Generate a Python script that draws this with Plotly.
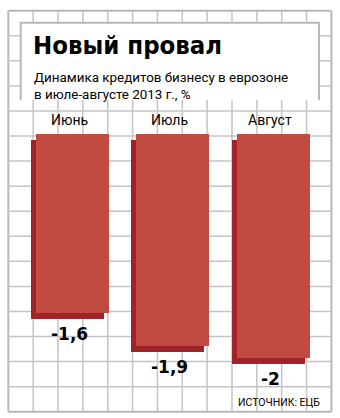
import plotly.graph_objects as go

# ---- data ----
categories = ["Июнь", "Июль", "Август"]
values = [-1.6, -1.9, -2.0]
value_labels = ["-1,6", "-1,9", "-2"]
title = "Новый провал"
subtitle = "Динамика кредитов бизнесу в еврозоне<br>в июле-августе 2013 г., %"
source = "ИСТОЧНИК: ЕЦБ"

W, H = 340, 418
FRONT = "#C24B41"
SIDE = "#A0232A"
GRID = "#C4C4C4"

# axis mapping (pixels per unit)
px_per_cat = 100.25
x0_px = 72.5
px_per_val = 111.6
y0_px = 134.3
xr = [-x0_px / px_per_cat, (W - x0_px) / px_per_cat]
yr = [(y0_px - H) / px_per_val, y0_px / px_per_val]

bar_w = 73 / px_per_cat
dx = 5 / px_per_cat
dy = 6 / px_per_val
xs = list(range(len(categories)))

fig = go.Figure()
fig.add_trace(go.Bar(
    x=xs, y=values, base=[-dy] * len(values),
    width=bar_w, offset=-bar_w / 2 - dx,
    marker=dict(color=SIDE, line=dict(width=0)),
    hoverinfo="skip", showlegend=False))
fig.add_trace(go.Bar(
    x=xs, y=values, width=bar_w, offset=-bar_w / 2,
    marker=dict(color=FRONT, line=dict(width=0)),
    hoverinfo="skip", showlegend=False))

shapes = []
left, right, top, bottom = 8.3, 331.4, 10.7, 411.7
ncol, nrow = 13, 16
for i in range(ncol + 1):
    px = left + (right - left) * i / ncol
    edge = i in (0, ncol)
    shapes.append(dict(type="line", xref="paper", yref="paper",
                       x0=px / W, x1=px / W, y0=1 - top / H, y1=1 - bottom / H,
                       line=dict(color="#B8B8B8" if edge else GRID, width=2 if edge else 1.5),
                       layer="below"))
for j in range(nrow + 1):
    py = top + (bottom - top) * j / nrow
    edge = j in (0, nrow)
    shapes.append(dict(type="line", xref="paper", yref="paper",
                       x0=left / W, x1=right / W, y0=1 - py / H, y1=1 - py / H,
                       line=dict(color="#B8B8B8" if edge else GRID, width=2 if edge else 1.5),
                       layer="below"))
bx0, bx1, by0, by1 = 20.7, 319, 22.7, 100
shapes.append(dict(type="rect", xref="paper", yref="paper",
                   x0=bx0 / W, x1=bx1 / W, y0=1 - by1 / H, y1=1 - by0 / H,
                   fillcolor="white", line=dict(width=0), layer="below"))
shapes.append(dict(type="path", xref="paper", yref="paper",
                   path=f"M {bx0/W} {1-by1/H} L {bx0/W} {1-by0/H} L {bx1/W} {1-by0/H} L {bx1/W} {1-by1/H}",
                   line=dict(color="#B8B8B8", width=2), layer="below"))

annotations = []
annotations.append(dict(text=f"<b>{title}</b>", xref="paper", yref="paper",
                        x=31 / W, y=1 - 28 / H, xanchor="left", yanchor="top",
                        showarrow=False,
                        font=dict(family="DejaVu Sans Condensed", size=25.5, color="black")))
annotations.append(dict(text=subtitle, xref="paper", yref="paper",
                        x=32 / W, y=1 - 68 / H, xanchor="left", yanchor="top",
                        align="left", showarrow=False,
                        font=dict(family="Roboto", size=13.4, color="black")))
for i, c in enumerate(categories):
    annotations.append(dict(text=c, x=xs[i], y=0, xshift=-3, yshift=14,
                            xref="x", yref="y", xanchor="center", yanchor="middle",
                            showarrow=False,
                            font=dict(family="Roboto", size=14, color="black")))
for i, (v, lab) in enumerate(zip(values, value_labels)):
    annotations.append(dict(text=f"<b>{lab}</b>", x=xs[i], y=v, xshift=-3, yshift=-21,
                            xref="x", yref="y", xanchor="center", yanchor="middle",
                            showarrow=False,
                            font=dict(family="DejaVu Sans", size=17, color="black")))
annotations.append(dict(text=source, xref="paper", yref="paper",
                        x=322 / W, y=1 - 402.5 / H, xanchor="right", yanchor="middle",
                        showarrow=False,
                        font=dict(family="Roboto", size=10.5, color="black")))

fig.update_layout(
    width=W, height=H, margin=dict(l=0, r=0, t=0, b=0),
    paper_bgcolor="white", plot_bgcolor="white",
    xaxis=dict(range=xr, visible=False, fixedrange=True),
    yaxis=dict(range=yr, visible=False, fixedrange=True),
    shapes=shapes, annotations=annotations,
    barmode="overlay", bargap=0, showlegend=False,
)
fig.write_html("out.html", config={"displayModeBar": False})
